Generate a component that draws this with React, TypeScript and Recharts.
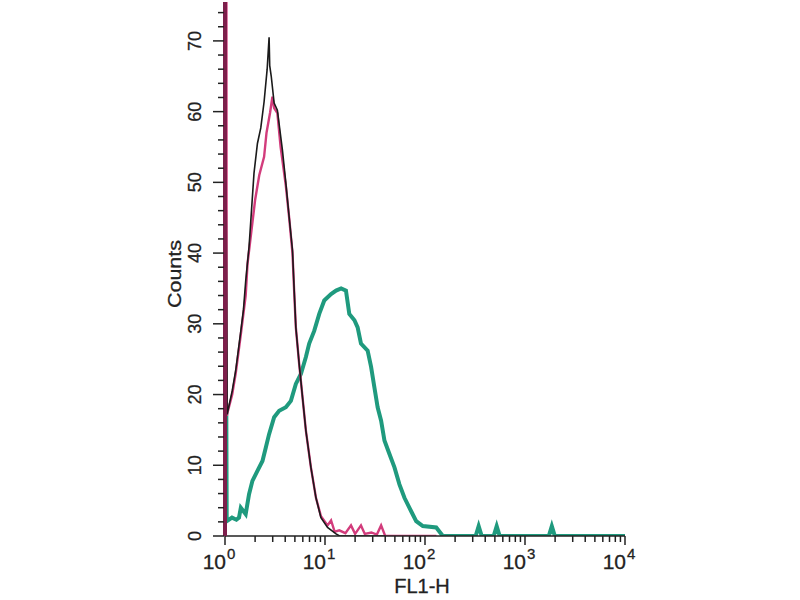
import { LineChart, Line, XAxis, YAxis } from "recharts";

// FL1-H histograms, [channel value, counts]
const unstainedCells = [
  [1, 0], [1, 46], [1.03, 46], [1.05, 17.2], [1.18, 20.5], [1.28, 23.4], [1.44, 29],
  [1.53, 32], [1.61, 36], [1.74, 40.9], [1.84, 46], [1.95, 51.3], [2.11, 55.5],
  [2.28, 57.7], [2.46, 61.4], [2.64, 66], [2.76, 70.5], [2.8, 66.5], [2.9, 65],
  [3.1, 61.2], [3.34, 60.2], [3.75, 54.6], [4.06, 49.9], [4.38, 45.1], [4.73, 40.4],
  [4.92, 34.7], [5.11, 29.5], [5.52, 24.3], [5.96, 19.6], [6.44, 14.9], [7.23, 9.7],
  [8.12, 5.4], [9.11, 2.6], [10.6, 1.2], [12.9, 0.3], [14, 0], [40, 0],
];

const isotypeControl = [
  [1, 0], [1, 200], [1.02, 200], [1.04, 17], [1.18, 20], [1.28, 23], [1.44, 28.5],
  [1.61, 34], [1.68, 38.5], [1.84, 43.2], [2, 47.5], [2.2, 51], [2.46, 53.6], [2.6, 57],
  [2.82, 59.8], [2.98, 62.1], [3.1, 60.5], [3.34, 59.8], [3.6, 55], [4.06, 49.5],
  [4.38, 45], [4.73, 40], [4.92, 34.5], [5.11, 29.5], [5.52, 24.3], [5.96, 19.6],
  [6.44, 14.9], [7.23, 9.7], [8.12, 5.4], [9.11, 2.8], [10.6, 1.5], [11.5, 2.2],
  [12.5, 0.6], [13.9, 0.8], [16, 0.4], [18.2, 1.5], [20, 0.3], [22.9, 1.5], [25, 0.3],
  [29.1, 0.5], [33, 0.2], [36.4, 1.5], [40, 0], [130, 0],
];

const stainedCells = [
  [1, 0], [1, 20], [1.03, 18.5], [1.04, 2.1], [1.175, 2.6], [1.3, 2.3], [1.38, 2.6],
  [1.44, 4], [1.61, 3.1], [1.74, 5.9], [1.88, 7.8], [2.11, 9.2], [2.37, 10.6],
  [2.56, 12.5], [2.76, 14.4], [3.1, 16.8], [3.48, 17.7], [4.06, 18.2], [4.56, 19.1],
  [5.11, 21.5], [5.74, 22.9], [6.44, 25.3], [6.95, 27.2], [7.8, 29], [8.76, 31.4],
  [9.83, 33.3], [11.5, 34.2], [12.9, 34.7], [14.5, 35], [16.2, 34.7], [17.5, 31.4],
  [19.7, 30.5], [21.2, 29.5], [22.9, 27.2], [26.7, 26.2], [28.9, 23.9], [31.2, 21],
  [33.6, 18.2], [36.4, 16.3], [39.3, 13.5], [44.1, 11.6], [49.5, 9.7], [55.5, 7.3],
  [62.3, 5.4], [72.7, 3.5], [81.6, 2.1], [95.1, 1.4], [129.5, 1.2], [150.8, 0],
  [321, 0], [344, 1.4], [369, 0], [486, 0], [521, 1.4], [558, 0], [1730, 0],
  [1854, 1.4], [1987, 0], [10000, 0],
];

const countTicks = [
  0, 2, 4, 6, 8, 10, 12, 14, 16, 18, 20, 22, 24, 26, 28, 30, 32, 34, 36, 38,
  40, 42, 44, 46, 48, 50, 52, 54, 56, 58, 60, 62, 64, 66, 68, 70, 72, 74,
];
const decades = [1, 10, 100, 1000, 10000];
const fluorTicks = [
  1, 2, 3, 4, 5, 6, 7, 8, 9,
  10, 20, 30, 40, 50, 60, 70, 80, 90,
  100, 200, 300, 400, 500, 600, 700, 800, 900,
  1000, 2000, 3000, 4000, 5000, 6000, 7000, 8000, 9000,
  10000,
];

const toRows = (pts: number[][]) => pts.map(([x, y]) => ({ x, y }));
const font = "'Liberation Sans', Arial, sans-serif";

// plot area: left 225, right 625, top 2, bottom 536
const AXIS_X = 225;
const AXIS_Y = 536;

function CountTick({ y, payload }: any) {
  const v = payload.value;
  const major = v % 10 === 0;
  const lx = AXIS_X - 30;
  return (
    <g>
      <line x1={AXIS_X - (major ? 12 : 7)} x2={AXIS_X - 1} y1={y} y2={y} stroke="#222" strokeWidth={1.5} />
      {major && (
        <text
          x={lx}
          y={y}
          transform={`rotate(-90 ${lx} ${y})`}
          textAnchor="middle"
          dominantBaseline="central"
          fontFamily={font}
          fontSize={18}
          fill="#222"
          stroke="#222"
          strokeWidth={0.3}
        >
          {v}
        </text>
      )}
    </g>
  );
}

function FluorTick({ x, payload }: any) {
  const v = payload.value;
  const major = decades.includes(v);
  const y = AXIS_Y;
  return (
    <g>
      <line x1={x} x2={x} y1={y} y2={y + (major ? 9 : 6)} stroke="#222" strokeWidth={1.5} />
      {major && (
        <g fontFamily={font} fill="#222" stroke="#222" strokeWidth={0.3}>
          <text x={x + 1} y={y + 33} textAnchor="end" fontSize={21}>10</text>
          <text x={x + 2} y={y + 23} textAnchor="start" fontSize={15}>
            {Math.round(Math.log10(v))}
          </text>
        </g>
      )}
    </g>
  );
}

export default function App() {
  return (
    <div style={{ width: 800, height: 600, background: "#fff" }}>
      <style>{"body{margin:0}"}</style>
      <LineChart width={800} height={600} margin={{ top: 2, right: 175, bottom: 24, left: 165 }}>
        <XAxis
          type="number"
          dataKey="x"
          scale="log"
          domain={[1, 10000]}
          allowDataOverflow
          ticks={fluorTicks}
          interval={0}
          height={40}
          tick={FluorTick}
          tickLine={false}
          axisLine={{ stroke: "#222", strokeWidth: 1.6 }}
          label={{
            value: "FL1-H",
            content: () => (
              <text
                x={422}
                y={593}
                textAnchor="middle"
                fontFamily={font}
                fontSize={20}
                fill="#222"
                stroke="#222"
                strokeWidth={0.3}
              >
                FL1-H
              </text>
            ),
          }}
        />
        <YAxis
          type="number"
          domain={[0, 75.5]}
          allowDataOverflow
          ticks={countTicks}
          interval={0}
          width={60}
          tick={CountTick}
          tickLine={false}
          axisLine={{ stroke: "#7d1f4b", strokeWidth: 4 }}
          label={{
            value: "Counts",
            content: () => (
              <text
                x={174}
                y={274}
                transform="rotate(-90 174 274)"
                textAnchor="middle"
                dominantBaseline="central"
                fontFamily={font}
                fontSize={19}
                textLength={68}
                lengthAdjust="spacingAndGlyphs"
                fill="#222"
                stroke="#222"
                strokeWidth={0.3}
              >
                Counts
              </text>
            ),
          }}
        />
        <Line
          data={toRows(stainedCells)}
          dataKey="y"
          type="linear"
          stroke="#1f9a7e"
          strokeWidth={4}
          dot={false}
          isAnimationActive={false}
        />
        <Line
          data={toRows(isotypeControl)}
          dataKey="y"
          type="linear"
          stroke="#d23c7c"
          strokeWidth={2.4}
          dot={false}
          isAnimationActive={false}
        />
        <Line
          data={toRows(unstainedCells)}
          dataKey="y"
          type="linear"
          stroke="#1a1a1a"
          strokeWidth={1.6}
          dot={false}
          isAnimationActive={false}
        />
      </LineChart>
    </div>
  );
}
